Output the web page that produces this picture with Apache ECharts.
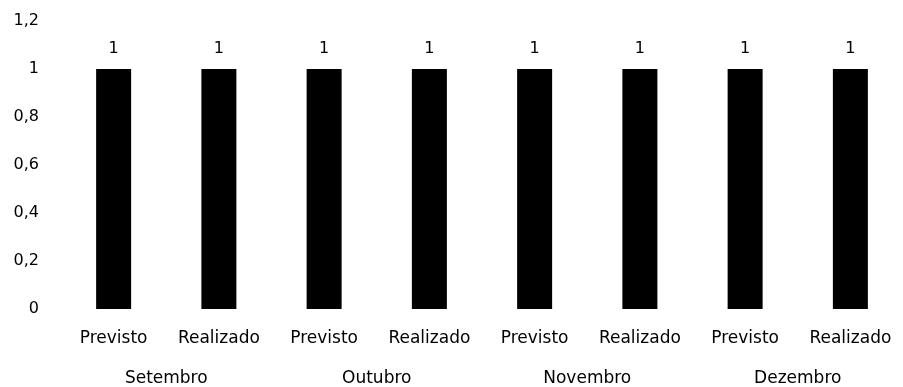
<!DOCTYPE html>
<html>
<head>
<meta charset="utf-8">
<script src="https://cdn.jsdelivr.net/npm/echarts@6/dist/echarts.min.js"></script>
<style>
  html, body { margin: 0; padding: 0; background: #fff; }
  #chart { width: 903px; height: 387px; }
</style>
</head>
<body>
<div id="chart"></div>
<script>
// Months and the two bars shown for each month
const months = ['Setembro', 'Outubro', 'Novembro', 'Dezembro'];
const phases = ['Previsto', 'Realizado'];
const previsto = [1, 1, 1, 1];
const realizado = [1, 1, 1, 1];
const yTicks = [0, 0.2, 0.4, 0.6, 0.8, 1, 1.2];

// Flatten to one bar per (month, phase)
const barLabels = [];
const barValues = [];
months.forEach((m, i) => {
  barLabels.push(phases[0]); barValues.push(previsto[i]);
  barLabels.push(phases[1]); barValues.push(realizado[i]);
});

const FONT = 'DejaVu Sans';
const fmt = v => String(+v.toFixed(1)).replace('.', ',');

const chart = echarts.init(document.getElementById('chart'), null, { renderer: 'canvas' });
chart.setOption({
  backgroundColor: '#ffffff',
  animation: false,
  grid: { left: 61, top: 21, bottom: 77, width: 849, containLabel: false },
  xAxis: [
    {
      type: 'category',
      data: barLabels,
      position: 'bottom',
      axisLine: { show: false },
      axisTick: { show: false },
      axisLabel: { color: '#000', fontFamily: FONT, fontSize: 17, margin: 21, interval: 0 }
    },
    {
      type: 'category',
      data: months,
      position: 'bottom',
      offset: 40,
      axisLine: { show: false },
      axisTick: { show: false },
      axisLabel: { color: '#000', fontFamily: FONT, fontSize: 17, margin: 21, interval: 0 }
    }
  ],
  yAxis: {
    type: 'value',
    min: yTicks[0],
    max: yTicks[yTicks.length - 1],
    interval: 0.2,
    axisLine: { show: false },
    axisTick: { show: false },
    splitLine: { show: false },
    axisLabel: { color: '#000', fontFamily: FONT, fontSize: 16, margin: 22, formatter: fmt }
  },
  series: [{
    type: 'bar',
    xAxisIndex: 0,
    data: barValues,
    barWidth: 35,
    itemStyle: { color: '#000' },
    label: {
      show: true,
      position: 'top',
      distance: 12,
      color: '#000',
      fontFamily: FONT,
      fontSize: 16,
      formatter: p => fmt(p.value)
    }
  }]
});
</script>
</body>
</html>
